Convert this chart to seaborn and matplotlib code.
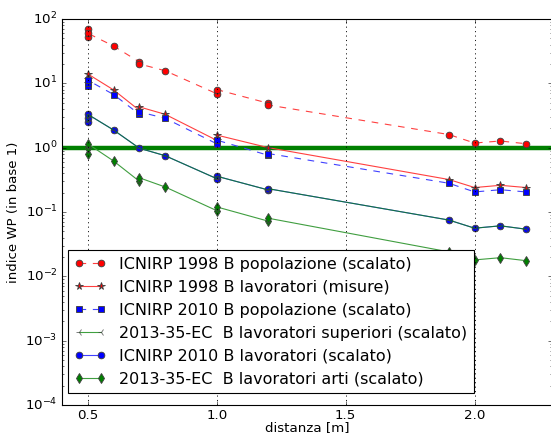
import matplotlib
matplotlib.use("Agg")
import matplotlib.pyplot as plt
import seaborn as sns
import pandas as pd

plt.style.use("classic")

# ---- data ----
x_pop98 = [0.5, 0.5, 0.5, 0.6, 0.7, 0.7, 0.8, 1.0, 1.0, 1.2, 1.2, 1.9, 2.0, 2.1, 2.2]
y_pop98 = [52, 69, 60, 38, 21.5, 20, 15.7, 6.9, 8.0, 4.9, 4.6, 1.6, 1.18, 1.27, 1.15]

x_lav98 = [0.5, 0.5, 0.5, 0.6, 0.7, 0.7, 0.8, 1.0, 1.0, 1.2, 1.9, 2.0, 2.1, 2.2]
y_lav98 = [10, 11.5, 14, 7.9, 3.8, 4.3, 3.3, 1.3, 1.57, 1.0, 0.32, 0.24, 0.26, 0.24]

x_pop10 = [0.5, 0.5, 0.5, 0.6, 0.7, 0.7, 0.8, 1.0, 1.0, 1.2, 1.2, 1.9, 2.0, 2.1, 2.2]
y_pop10 = [9.1, 10, 11.2, 6.7, 3.3, 3.6, 2.86, 1.15, 1.31, 0.76, 0.81, 0.28, 0.205, 0.222, 0.205]

x_sup = [0.5, 0.5, 0.5, 0.6, 0.7, 0.8, 1.0, 1.0, 1.2, 1.2, 1.9, 2.0, 2.1, 2.2]
y_sup = [2.5, 2.88, 3.3, 1.88, 0.98, 0.75, 0.33, 0.36, 0.22, 0.23, 0.075, 0.056, 0.061, 0.054]

x_lav10 = [0.5, 0.5, 0.5, 0.6, 0.7, 0.8, 1.0, 1.0, 1.2, 1.2, 1.9, 2.0, 2.1, 2.2]
y_lav10 = [2.5, 2.88, 3.3, 1.88, 0.98, 0.75, 0.33, 0.36, 0.22, 0.23, 0.075, 0.056, 0.061, 0.054]

x_arti = [0.5, 0.5, 0.5, 0.6, 0.7, 0.7, 0.8, 1.0, 1.0, 1.2, 1.2, 1.9, 2.0, 2.1, 2.2]
y_arti = [0.8, 1.0, 1.15, 0.62, 0.30, 0.34, 0.245, 0.105, 0.12, 0.072, 0.08, 0.024, 0.018, 0.0195, 0.0175]

labels = [
    "ICNIRP 1998 B popolazione (scalato)",
    "ICNIRP 1998 B lavoratori (misure)",
    "ICNIRP 2010 B popolazione (scalato)",
    "2013-35-EC  B lavoratori superiori (scalato)",
    "ICNIRP 2010 B lavoratori (scalato)",
    "2013-35-EC  B lavoratori arti (scalato)",
]
xticks = [0.5, 1.0, 1.5, 2.0]
xticklabels = ["0.5", "1.0", "1.5", "2.0"]
limit = 1.0

fig = plt.figure(figsize=(551 / 80, 433 / 80), dpi=80)
fig.patch.set_facecolor("white")
ax = fig.add_axes([62 / 551, 28 / 433, 490 / 551, 386 / 433])

def draw(xs, ys, label, lcolor, mcolor, marker, ls, ms=6, z=2, alpha=None):
    df = pd.DataFrame({"x": xs, "y": ys})
    sns.lineplot(data=df, x="x", y="y", ax=ax, estimator=None, sort=False,
                 color=lcolor, marker=marker, linestyle=ls, markersize=ms,
                 markerfacecolor=mcolor, markeredgecolor="0.25",
                 markeredgewidth=0.8, alpha=alpha,
                 linewidth=1.0, label=label, legend=False, zorder=z)

ax.axhline(limit, color=(0, 0.5, 0), linewidth=4, zorder=1.5)

draw(x_pop98, y_pop98, labels[0], (1, 0.25, 0.25), "r", "o", "--")
draw(x_lav98, y_lav98, labels[1], (1, 0.25, 0.25), "r", "*", "-", ms=7)
draw(x_pop10, y_pop10, labels[2], (0.25, 0.25, 1), "b", "s", "--")
draw(x_lav10, y_lav10, labels[4], (0.25, 0.25, 1), "b", "o", "-")
draw(x_sup, y_sup, labels[3], "g", "g", "3", "-", ms=6, z=2.1, alpha=0.75)
draw(x_arti, y_arti, labels[5], (0.25, 0.62, 0.25), (0, 0.5, 0), "d", "-", ms=7)

ax.set_yscale("log")
ax.set_ylim(1e-4, 1e2)
ax.set_xlim(0.4, 2.3)
ax.set_xticks(xticks)
ax.set_xticklabels(xticklabels)
ax.xaxis.grid(True, linestyle=":", color="k", linewidth=0.8)
ax.yaxis.grid(False)
ax.set_xlabel("distanza [m]", fontsize=12, labelpad=-1)
ax.set_ylabel("indice WP (in base 1)", fontsize=12)

handles, labs = ax.get_legend_handles_labels()
order = [labs.index(l) for l in labels]
ax.legend([handles[i] for i in order], [labs[i] for i in order],
          loc="lower left", bbox_to_anchor=(0.012, 0.031), borderaxespad=0,
          fontsize="large", numpoints=2)

fig.savefig("out.png", dpi=80)
